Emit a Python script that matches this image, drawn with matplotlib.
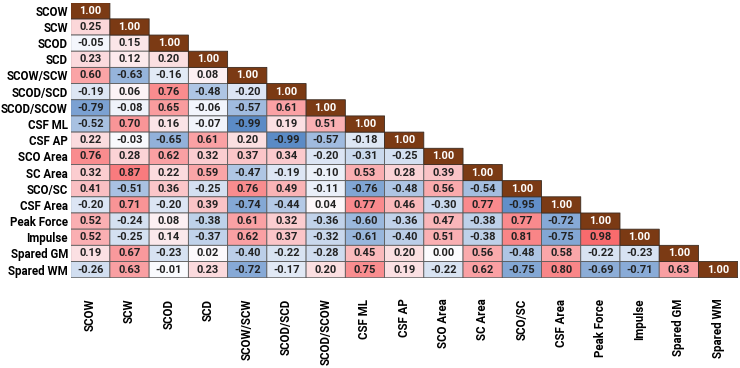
import numpy as np
import matplotlib
matplotlib.use('Agg')
import matplotlib.pyplot as plt
from matplotlib.colors import LinearSegmentedColormap

labels = ['SCOW', 'SCW', 'SCOD', 'SCD', 'SCOW/SCW', 'SCOD/SCD', 'SCOD/SCOW',
          'CSF ML', 'CSF AP', 'SCO Area', 'SC Area', 'SCO/SC', 'CSF Area',
          'Peak Force', 'Impulse', 'Spared GM', 'Spared WM']

# lower triangle rows (diagonal included)
rows = [
    [1.00],
    [0.25, 1.00],
    [-0.05, 0.15, 1.00],
    [0.23, 0.12, 0.20, 1.00],
    [0.60, -0.63, -0.16, 0.08, 1.00],
    [-0.19, 0.06, 0.76, -0.48, -0.20, 1.00],
    [-0.79, -0.08, 0.65, -0.06, -0.57, 0.61, 1.00],
    [-0.52, 0.70, 0.16, -0.07, -0.99, 0.19, 0.51, 1.00],
    [0.22, -0.03, -0.65, 0.61, 0.20, -0.99, -0.57, -0.18, 1.00],
    [0.76, 0.28, 0.62, 0.32, 0.37, 0.34, -0.20, -0.31, -0.25, 1.00],
    [0.32, 0.87, 0.22, 0.59, -0.47, -0.19, -0.10, 0.53, 0.28, 0.39, 1.00],
    [0.41, -0.51, 0.36, -0.25, 0.76, 0.49, -0.11, -0.76, -0.48, 0.56, -0.54, 1.00],
    [-0.20, 0.71, -0.20, 0.39, -0.74, -0.44, 0.04, 0.77, 0.46, -0.30, 0.77, -0.95, 1.00],
    [0.52, -0.24, 0.08, -0.38, 0.61, 0.32, -0.36, -0.60, -0.36, 0.47, -0.38, 0.77, -0.72, 1.00],
    [0.52, -0.25, 0.14, -0.37, 0.62, 0.37, -0.32, -0.61, -0.40, 0.51, -0.38, 0.81, -0.75, 0.98, 1.00],
    [0.19, 0.67, -0.23, 0.02, -0.40, -0.22, -0.28, 0.45, 0.20, 0.00, 0.56, -0.48, 0.58, -0.22, -0.23, 1.00],
    [-0.26, 0.63, -0.01, 0.23, -0.72, -0.17, 0.20, 0.75, 0.19, -0.22, 0.62, -0.75, 0.80, -0.69, -0.71, 0.63, 1.00],
]

n = len(labels)
M = np.full((n, n), np.nan)
for i, r in enumerate(rows):
    M[i, :len(r)] = r

cmap = LinearSegmentedColormap.from_list('excel', ['#5A8AC6', '#FCFCFF', '#F8696B'])
diag_color = '#7B3A14'

plt.rcParams['font.family'] = ['Roboto', 'DejaVu Sans']

fig = plt.figure(figsize=(7.4, 3.68), dpi=100)
ax = fig.add_axes([0.0955, 0.2454, 0.9014, 0.7473])

eye = np.eye(n, dtype=bool)
off = np.ma.masked_invalid(np.where(eye, np.nan, M))
ax.pcolor(off, cmap=cmap, vmin=-1, vmax=1, edgecolors='#5a5a5a', linewidth=0.6)
diag = np.ma.masked_invalid(np.where(eye, 1.0, np.nan))
ax.pcolor(diag, cmap=LinearSegmentedColormap.from_list('d', [diag_color, diag_color]),
          edgecolors='#3a2a20', linewidth=0.6)

for i in range(n):
    for j in range(i + 1):
        v = M[i, j]
        ax.text(j + 0.5, i + 0.5, '%.2f' % v, ha='center', va='center',
                fontsize=8, fontweight='bold',
                color='white' if i == j else '#222222')

ax.set_xlim(0, n)
ax.set_ylim(n, 0)
ax.set_xticks(np.arange(n) + 0.5)
ax.set_xticklabels(labels, rotation=90, fontsize=8.3, fontweight='bold', va='top')
ax.set_yticks(np.arange(n) + 0.5)
ax.set_yticklabels(labels, fontsize=8.3, fontweight='bold')
ax.tick_params(length=0)
ax.tick_params(axis='x', pad=15)
ax.tick_params(axis='y', pad=2)
for s in ax.spines.values():
    s.set_visible(False)

fig.savefig('out.png', dpi=100)
